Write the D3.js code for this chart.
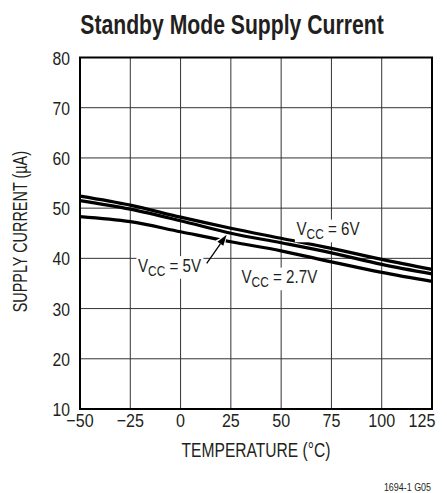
<!DOCTYPE html>
<html>
<head>
<meta charset="utf-8">
<script src="https://cdn.jsdelivr.net/npm/d3@7"></script>
<style>
  body { margin: 0; background: #fff; }
  svg text { font-family: "Liberation Sans", Arial, sans-serif; fill: #231f20; }
</style>
</head>
<body>
<div id="main"></div>
<script>
var width = 447, height = 493;
var margin = {left: 80, right: 15, top: 57.5, bottom: 84};

// data
var temps = [-50, -25, 0, 25, 50, 75, 100, 125];
var vcc6 = [52.4, 50.6, 48.2, 46.0, 44.0, 42.0, 39.8, 37.8];
var vcc5 = [51.5, 49.8, 47.5, 45.0, 43.1, 41.1, 38.8, 36.9];
var vcc27 = [48.3, 47.3, 45.3, 43.3, 41.5, 39.3, 37.2, 35.4];
var xTicks = [-50, -25, 0, 25, 50, 75, 100, 125];
var yTicks = [10, 20, 30, 40, 50, 60, 70, 80];

var svg = d3.select('#main').append("svg")
  .attr("width", width)
  .attr("height", height);

var x = d3.scaleLinear().domain([-50, 125]).range([margin.left, width - margin.right]);
var y = d3.scaleLinear().domain([10, 80]).range([height - margin.bottom, margin.top]);

// condensed look: squeeze text horizontally
function ctext(g, tx, ty, k, rot) {
  return g.append("text")
    .attr("transform", "translate(" + tx + "," + ty + ")" + (rot ? " rotate(" + rot + ")" : "") + " scale(" + k + ",1)");
}

ctext(svg, 232, 33.5, 0.77)
  .attr("text-anchor", "middle")
  .style("font-size", "27.5px").style("font-weight", "bold")
  .text("Standby Mode Supply Current");

// grid
var grid = svg.append("g").attr("stroke", "#333").attr("stroke-width", 1);
grid.selectAll(".gx").data(xTicks.slice(1, -1)).enter().append("line")
  .attr("x1", function (d) { return x(d); }).attr("x2", function (d) { return x(d); })
  .attr("y1", y(10)).attr("y2", y(80));
grid.selectAll(".gy").data(yTicks.slice(1, -1)).enter().append("line")
  .attr("y1", function (d) { return y(d); }).attr("y2", function (d) { return y(d); })
  .attr("x1", x(-50)).attr("x2", x(125));

// tick labels
yTicks.forEach(function (d) {
  ctext(svg, 70, y(d) + 7, 0.85)
    .attr("text-anchor", "end").style("font-size", "18.5px")
    .text(d);
});
xTicks.forEach(function (d) {
  var px = d === 125 ? x(d) - 10 : x(d);
  ctext(svg, px, y(10) + 18, 0.87)
    .attr("text-anchor", "middle").style("font-size", "18.5px")
    .text(d < 0 ? "\u2212" + (-d) : d);
});

ctext(svg, 27, 231.7, 0.74, -90)
  .attr("text-anchor", "middle").style("font-size", "19.5px")
  .text("SUPPLY CURRENT (\u00b5A)");
ctext(svg, 256, 456.5, 0.78)
  .attr("text-anchor", "middle").style("font-size", "20px")
  .text("TEMPERATURE (\u00b0C)");
ctext(svg, 431, 491, 0.85)
  .attr("text-anchor", "end").style("font-size", "10.5px")
  .text("1694-1 G05");

// curves
var line = d3.line()
  .x(function (d, i) { return x(temps[i]); })
  .y(function (d) { return y(d); })
  .curve(d3.curveMonotoneX);
svg.selectAll(".curve").data([vcc6, vcc5, vcc27]).enter().append("path")
  .attr("d", line)
  .attr("fill", "none").attr("stroke", "#000").attr("stroke-width", 3.2);

// series labels with white knockout
var labels = [
  {sub: "= 6V", x: 296.5, y: 235},
  {sub: "= 5V", x: 138, y: 271.5},
  {sub: "= 2.7V", x: 241.5, y: 283}
];
var lg = svg.append("g");
labels.forEach(function (l) {
  var t = ctext(lg, l.x, l.y, 0.82).style("font-size", "18.5px");
  t.append("tspan").text("V");
  t.append("tspan").attr("dy", 4).style("font-size", "14.5px").text("CC");
  t.append("tspan").attr("dy", -4).text(" " + l.sub);
  var b = t.node().getBBox();
  lg.insert("rect", function () { return t.node(); })
    .attr("transform", t.attr("transform"))
    .attr("x", b.x - 2).attr("y", b.y + 1).attr("width", b.width + 4).attr("height", b.height - 1)
    .attr("fill", "#fff");
});

// arrow for 5V
var ax1 = x(13), ay1 = y(39.0), ax2 = x(22.9), ay2 = y(44.7);
var ang = Math.atan2(ay2 - ay1, ax2 - ax1);
var hl = 11, hw = 3.6;
var bx = ax2 - hl * Math.cos(ang), by = ay2 - hl * Math.sin(ang);
svg.append("line").attr("x1", ax1 + 8 * Math.cos(ang)).attr("y1", ay1 + 8 * Math.sin(ang))
  .attr("x2", bx).attr("y2", by)
  .attr("stroke", "#fff").attr("stroke-width", 5);
svg.append("path")
  .attr("d", "M" + ax2 + "," + ay2 +
    "L" + (bx + (hw + 2) * Math.sin(ang)) + "," + (by - (hw + 2) * Math.cos(ang)) +
    "L" + (bx - (hw + 2) * Math.sin(ang)) + "," + (by + (hw + 2) * Math.cos(ang)) + "Z")
  .attr("fill", "#fff");
svg.append("line").attr("x1", ax1).attr("y1", ay1).attr("x2", bx).attr("y2", by)
  .attr("stroke", "#000").attr("stroke-width", 1.3);
svg.append("path")
  .attr("d", "M" + ax2 + "," + ay2 +
    "L" + (bx + hw * Math.sin(ang)) + "," + (by - hw * Math.cos(ang)) +
    "L" + (bx - hw * Math.sin(ang)) + "," + (by + hw * Math.cos(ang)) + "Z")
  .attr("fill", "#000");

// frame
svg.append("rect")
  .attr("x", x(-50)).attr("y", y(80))
  .attr("width", x(125) - x(-50)).attr("height", y(10) - y(80))
  .attr("fill", "none").attr("stroke", "#000").attr("stroke-width", 2);
</script>
</body>
</html>
